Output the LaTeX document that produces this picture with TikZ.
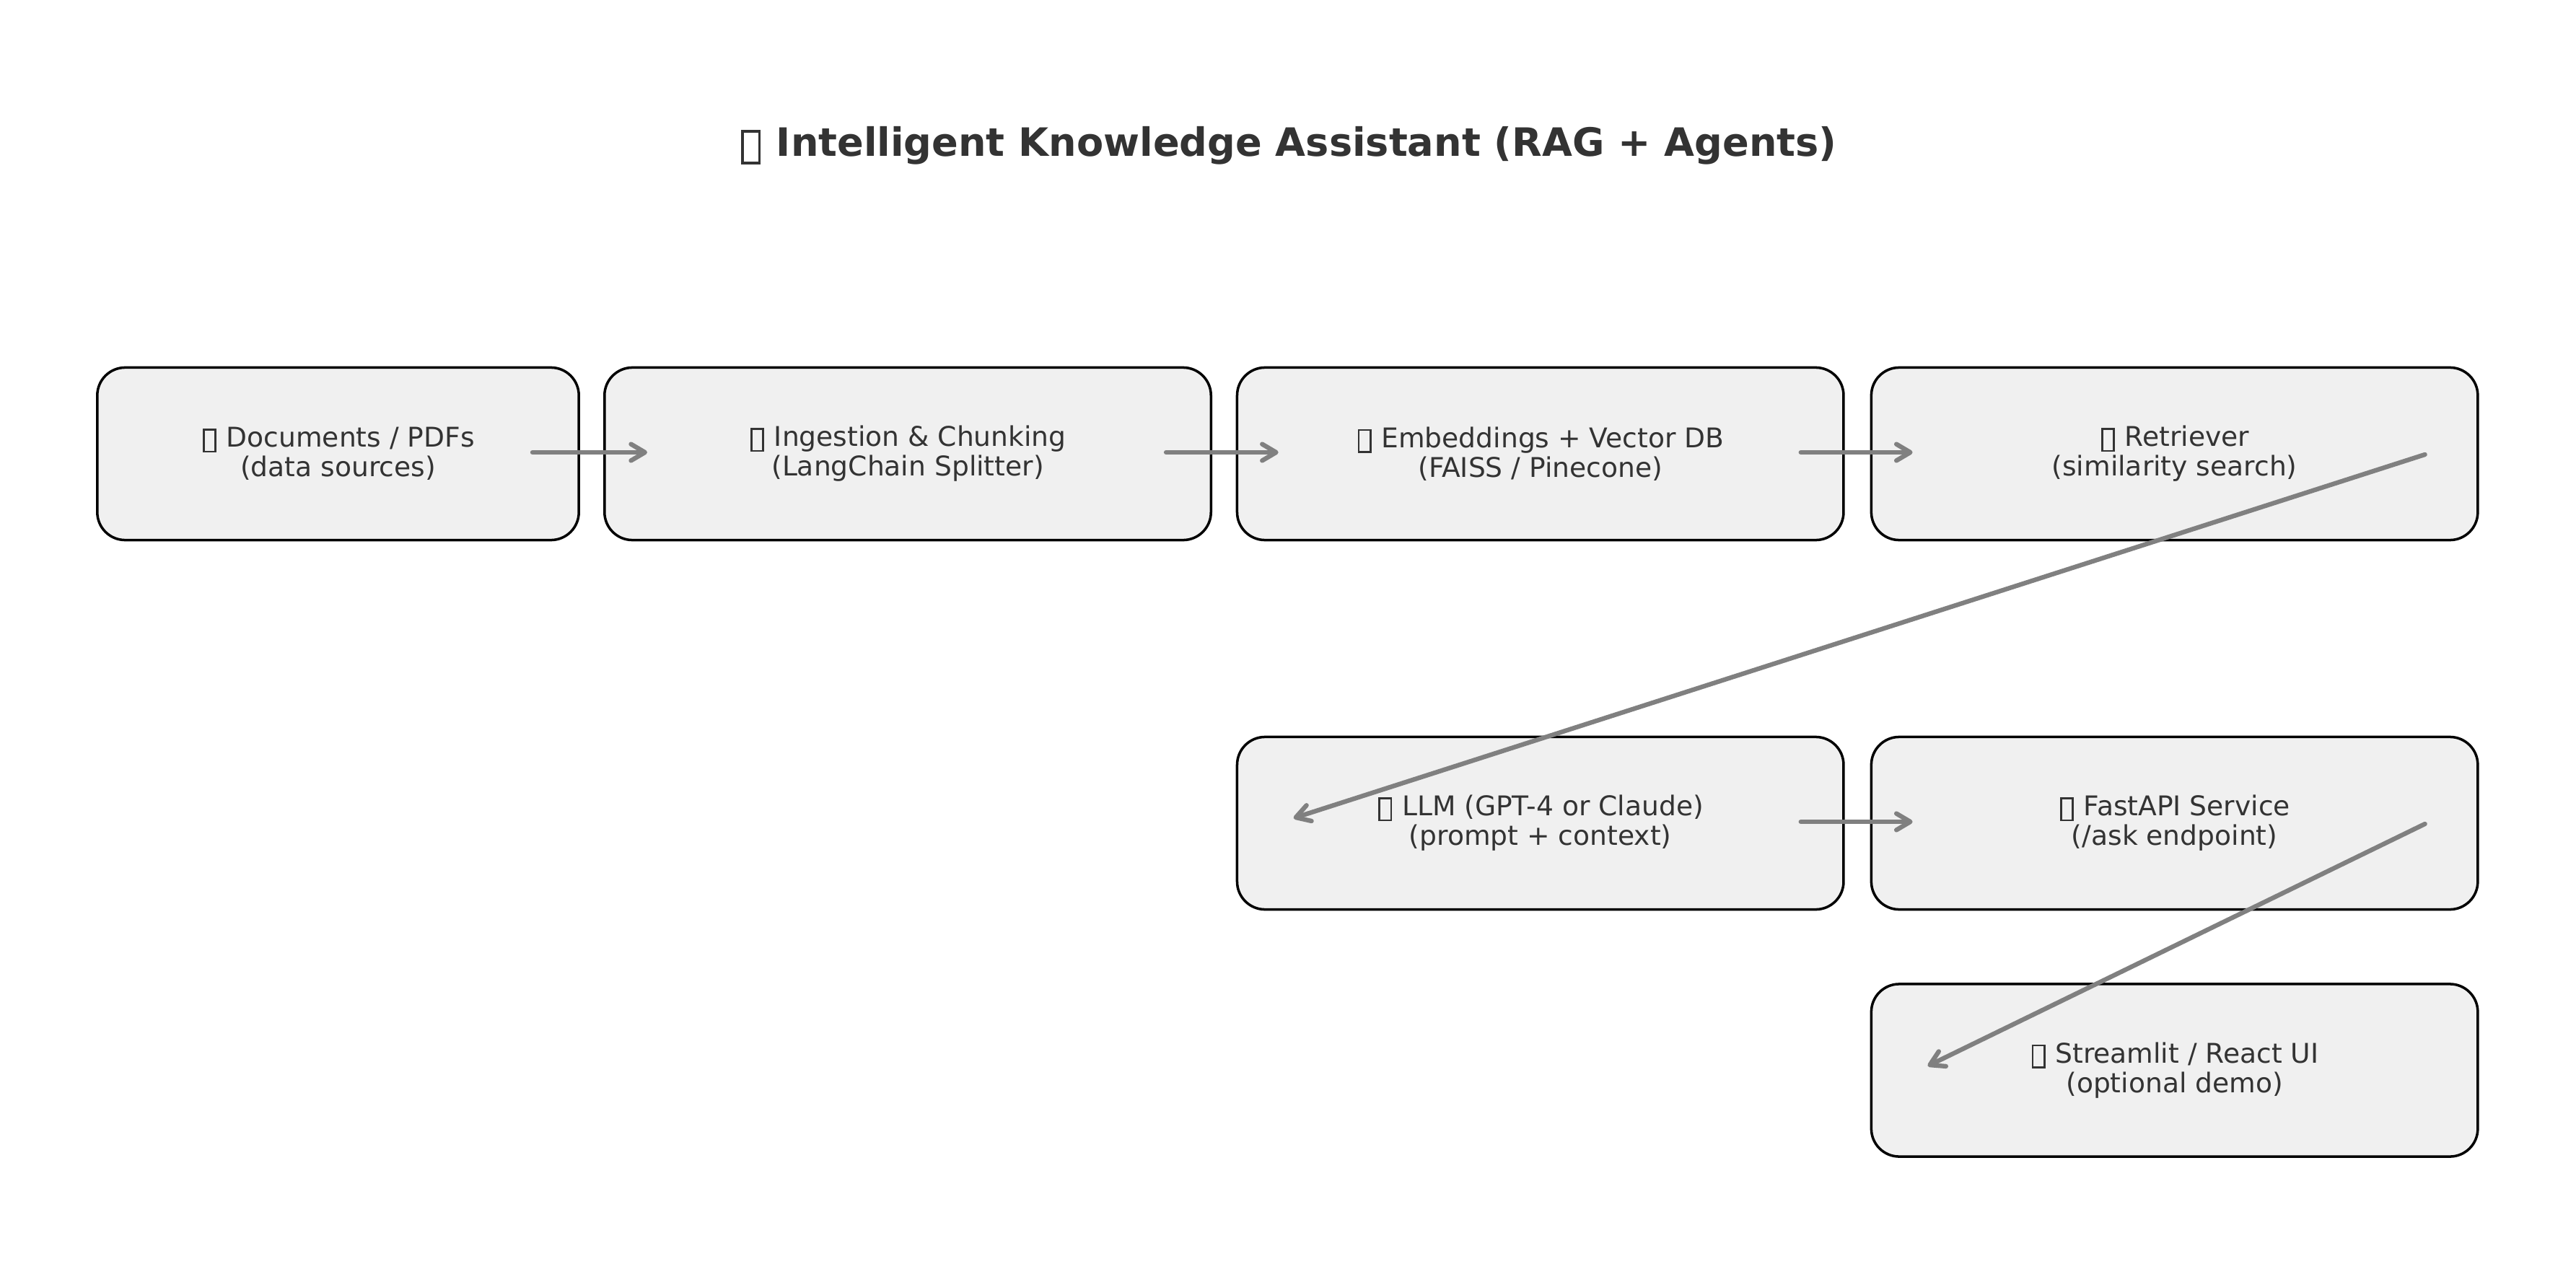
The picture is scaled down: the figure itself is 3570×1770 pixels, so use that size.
\documentclass[tikz,border=0pt]{standalone}
\usepackage{fontspec}
\setmainfont{DejaVu Sans}
\usetikzlibrary{arrows.meta,calc}
\definecolor{boxfill}{HTML}{F0F0F0}
\definecolor{txt}{HTML}{333333}
\definecolor{arr}{HTML}{808080}
\newcommand\tofubox{\makebox[0.6em][l]{\hspace{0.05em}\raisebox{-0.13em}{\setlength\fboxsep{0pt}\setlength\fboxrule{0.07em}\fbox{\rule{0pt}{0.74em}\rule{0.36em}{0pt}}}}}
\tikzset{
  stage/.style={draw=black, line width=1pt, fill=boxfill, rounded corners=11pt,
    minimum width=8.40cm, minimum height=2.39cm, text=txt, align=center,
    font=\fontsize{10.7}{11.7}\selectfont, inner sep=0pt},
  flow/.style={draw=arr, line width=1.8pt, line cap=round, line join=round,
    -{Straight Barb[length=5.5pt,width=6.5pt,round]}},
}
\begin{document}
\begin{tikzpicture}[x=0.01cm,y=-0.01cm]
\useasboundingbox (0,0) rectangle (3570,1770);
\node[text=txt, font=\bfseries\fontsize{15.4}{18}\selectfont] (title) at (1785,202)
  {\tofubox{} Intelligent Knowledge Assistant (RAG + Agents)};
\node[stage, minimum width=6.67cm] (b1) at (468.5,629) {\tofubox{} Documents / PDFs\\(data sources)};
\node[stage] (b2) at (1258,629) {\tofubox{} Ingestion \& Chunking\\(LangChain Splitter)};
\node[stage] (b3) at (2134.7,629) {\tofubox{} Embeddings + Vector DB\\(FAISS / Pinecone)};
\node[stage] (b4) at (3013.6,629) {\tofubox{} Retriever\\(similarity search)};
\node[stage] (b5) at (2134.7,1141) {\tofubox{} LLM (GPT-4 or Claude)\\(prompt + context)};
\node[stage] (b6) at (3013.6,1141) {\tofubox{} FastAPI Service\\(/ask endpoint)};
\node[stage] (b7) at (3013.6,1483.5) {\tofubox{} Streamlit / React UI\\(optional demo)};
\coordinate (a1s) at ($(b1.east)+(-66,-2)$);
\coordinate (a1e) at ($(b2.west)+(61,-2)$);
\coordinate (a2s) at ($(b2.east)+(-64,-2)$);
\coordinate (a2e) at ($(b3.west)+(59,-2)$);
\coordinate (a3s) at ($(b3.east)+(-61,-2)$);
\coordinate (a3e) at ($(b4.west)+(59,-2)$);
\coordinate (a4s) at ($(b4.east)+(-75,1)$);
\coordinate (a4e) at ($(b5.west)+(80,-7)$);
\coordinate (a5s) at ($(b5.east)+(-61,-2)$);
\coordinate (a5e) at ($(b6.west)+(59,-2)$);
\coordinate (a6s) at ($(b6.east)+(-75,1)$);
\coordinate (a6e) at ($(b7.west)+(80,-6)$);
\draw[flow] (a1s) -- (a1e);
\draw[flow] (a2s) -- (a2e);
\draw[flow] (a3s) -- (a3e);
\draw[flow] (a4s) -- (a4e);
\draw[flow] (a5s) -- (a5e);
\draw[flow] (a6s) -- (a6e);
\end{tikzpicture}
\end{document}
